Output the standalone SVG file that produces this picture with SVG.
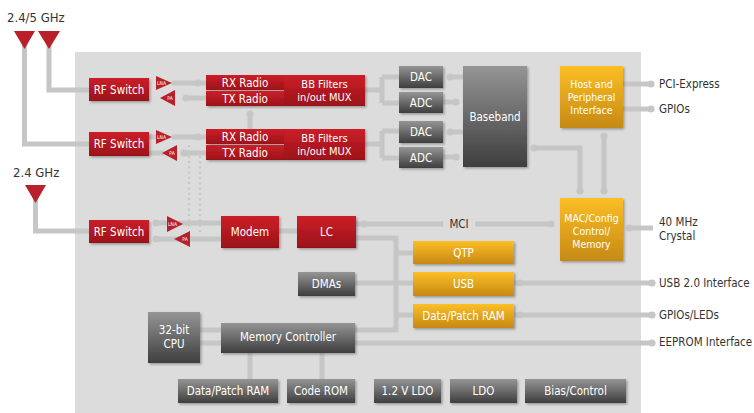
<svg xmlns="http://www.w3.org/2000/svg" width="754" height="413" viewBox="0 0 754 413">
<style>
.ln{stroke:#c6c6c6;stroke-width:5;fill:none}
.dt{stroke:#c6c6c6;stroke-width:2.2;fill:none;stroke-dasharray:2 3.3}
.dot{fill:#c6c6c6}
.red{fill:url(#gRed);filter:url(#sh)}
.gry{fill:url(#gGry);filter:url(#sh)}
.yel{fill:url(#gYel);filter:url(#sh)}
.ant{fill:#b8202a}
.t{font-family:"DejaVu Sans Condensed","DejaVu Sans",sans-serif;font-stretch:condensed;font-size:11.5px;fill:#fff;text-anchor:middle;dominant-baseline:central}
.s{font-size:10.5px}
.m{font-size:11px}
.lbl{font-family:"DejaVu Sans Condensed","DejaVu Sans",sans-serif;font-stretch:condensed;font-size:11.5px;fill:#333;dominant-baseline:central}
.big{font-size:13px}
.tiny{font-family:"DejaVu Sans Condensed","DejaVu Sans",sans-serif;font-size:5px;fill:#fff;text-anchor:middle;dominant-baseline:central}
</style>
<defs>
<linearGradient id="gRed" x1="0" y1="0" x2="0" y2="1"><stop offset="0" stop-color="#cc2029"/><stop offset="1" stop-color="#9a1119"/></linearGradient>
<linearGradient id="gGry" x1="0" y1="0" x2="0" y2="1"><stop offset="0" stop-color="#959595"/><stop offset="1" stop-color="#3e3e3e"/></linearGradient>
<linearGradient id="gYel" x1="0" y1="0" x2="0" y2="1"><stop offset="0" stop-color="#fcbf26"/><stop offset="1" stop-color="#c68913"/></linearGradient>
<filter id="sh" x="-10%" y="-10%" width="130%" height="140%"><feDropShadow dx="1.5" dy="1.5" stdDeviation="1.2" flood-color="#000" flood-opacity="0.3"/></filter>
</defs>
<rect x="0" y="0" width="754" height="413" fill="#fff"/>
<rect x="75" y="52" width="566" height="361" fill="#dcdcdc"/>

<g id="connectors">
<path class="ln" d="M24.5 45V144H89"/>
<path class="ln" d="M49 45V90H89"/>
<path class="ln" d="M35.5 199V231H89"/>
<path class="ln" d="M172 83H206"/><circle class="dot" cx="198" cy="83" r="3.6"/>
<path class="ln" d="M186 98H206"/><circle class="dot" cx="186" cy="98" r="3.6"/>
<path class="ln" d="M149 137H158M172 137H206"/><circle class="dot" cx="198" cy="137" r="3.6"/>
<path class="ln" d="M149 153H164M184 153H206"/><circle class="dot" cx="184" cy="153" r="3.6"/>
<path class="dt" d="M189 145V229"/>
<path class="dt" d="M200 156V234"/>
<path class="ln" d="M156 223H221"/><circle class="dot" cx="156" cy="223" r="3.6"/>
<path class="ln" d="M156 239H221"/><circle class="dot" cx="156" cy="239" r="3.6"/>
<path class="ln" d="M250 114V129"/><circle class="dot" cx="250" cy="114" r="3.6"/>
<path class="ln" d="M365 90H382M382 77V103M382 77H399M382 103H399"/>
<path class="ln" d="M365 144H382M382 131V158M382 131H399M382 158H399"/>
<path class="ln" d="M450 77H463"/><circle class="dot" cx="450" cy="77" r="3.6"/>
<path class="ln" d="M443 102H456"/><circle class="dot" cx="456" cy="102" r="3.6"/>
<path class="ln" d="M450 132H463"/><circle class="dot" cx="450" cy="132" r="3.6"/>
<path class="ln" d="M443 157H456"/><circle class="dot" cx="456" cy="157" r="3.6"/>
<path class="ln" d="M534 148H580V191"/><circle class="dot" cx="534" cy="148" r="3.6"/><circle class="dot" cx="580" cy="191" r="3.6"/>
<path class="ln" d="M604 136V191"/><circle class="dot" cx="604" cy="136" r="3.6"/><circle class="dot" cx="604" cy="191" r="3.6"/>
<path class="ln" d="M623 84H651M623 109H651"/><circle class="dot" cx="651" cy="84" r="3.6"/><circle class="dot" cx="651" cy="109" r="3.6"/>
<path class="ln" d="M629 228H653"/><circle class="dot" cx="629" cy="228" r="3.6"/>
<path class="ln" d="M279 231H297"/>
<path class="ln" d="M356 224H443M475 224H551"/><circle class="dot" cx="364" cy="224" r="3.6"/><circle class="dot" cx="551" cy="224" r="3.6"/>
<path class="ln" d="M356 238H396V330H355"/>
<path class="ln" d="M396 253H413M355 283H413M396 315H413"/>
<path class="ln" d="M514 283H652"/><circle class="dot" cx="520" cy="283" r="3.6"/><circle class="dot" cx="652" cy="283" r="3.6"/>
<path class="ln" d="M514 315H652"/><circle class="dot" cx="520" cy="315" r="3.6"/><circle class="dot" cx="652" cy="315" r="3.6"/>
<path class="ln" d="M355 343H652"/><circle class="dot" cx="652" cy="343" r="3.6"/>
<path class="ln" d="M200 330H221M200 343H221"/>
<path class="ln" d="M250 353V379M322 353V379"/>
<text class="lbl" x="459" y="224" text-anchor="middle" font-size="12.5">MCI</text>
</g>

<g id="ant1"><polygon class="ant" points="14,31 35,31 24.5,49"/></g>
<g id="ant2"><polygon class="ant" points="38,31 60,31 49,49"/></g>
<g id="ant3"><polygon class="ant" points="25,185 46,185 35.5,203"/></g>
<text class="lbl big" x="7" y="17">2.4/5 GHz</text>
<text class="lbl big" x="13" y="172">2.4 GHz</text>

<g id="rfsw1"><rect class="red" x="89" y="78" width="60" height="23"/><text class="t" x="119" y="90">RF Switch</text></g>
<g id="rfsw2"><rect class="red" x="89" y="132" width="60" height="24"/><text class="t" x="119" y="144">RF Switch</text></g>
<g id="rfsw3"><rect class="red" x="89" y="220" width="60" height="23"/><text class="t" x="119" y="232">RF Switch</text></g>

<g id="lna1"><polygon class="ant" points="156,76 172,83 156,90"/><text class="tiny" x="161.5" y="83">LNA</text></g>
<g id="pa1"><polygon class="ant" points="175,90 175,106 160,98"/><text class="tiny" x="170" y="98">PA</text></g>
<g id="lna2"><polygon class="ant" points="156,130 172,137 156,144"/><text class="tiny" x="161.5" y="137">LNA</text></g>
<g id="pa2"><polygon class="ant" points="177,145 177,161 162,153"/><text class="tiny" x="172" y="153">PA</text></g>
<g id="lna3"><polygon class="ant" points="167,216 183,224 167,232"/><text class="tiny" x="172.5" y="224">LNA</text></g>
<g id="pa3"><polygon class="ant" points="190,231 190,247 174,239"/><text class="tiny" x="185" y="239">PA</text></g>

<g id="rx1"><rect class="red" x="206" y="75" width="78" height="15"/><text class="t" x="245" y="82.5">RX Radio</text></g>
<g id="tx1"><rect class="red" x="206" y="91" width="78" height="15"/><text class="t" x="245" y="98.5">TX Radio</text></g>
<g id="bb1"><rect class="red" x="284" y="75" width="81" height="31"/><text class="t m" x="324.5" y="84.5">BB Filters</text><text class="t m" x="324.5" y="97">in/out MUX</text></g>
<g id="rx2"><rect class="red" x="206" y="129" width="78" height="15"/><text class="t" x="245" y="136.5">RX Radio</text></g>
<g id="tx2"><rect class="red" x="206" y="145" width="78" height="15"/><text class="t" x="245" y="152.5">TX Radio</text></g>
<g id="bb2"><rect class="red" x="284" y="129" width="81" height="31"/><text class="t m" x="324.5" y="138.5">BB Filters</text><text class="t m" x="324.5" y="151">in/out MUX</text></g>

<g id="dac1"><rect class="gry" x="399" y="66" width="44" height="22"/><text class="t" x="421" y="77">DAC</text></g>
<g id="adc1"><rect class="gry" x="399" y="92" width="44" height="21"/><text class="t" x="421" y="102.5">ADC</text></g>
<g id="dac2"><rect class="gry" x="399" y="121" width="44" height="22"/><text class="t" x="421" y="132">DAC</text></g>
<g id="adc2"><rect class="gry" x="399" y="147" width="44" height="21"/><text class="t" x="421" y="157.5">ADC</text></g>
<g id="baseband"><rect class="gry" x="463" y="66" width="64" height="101"/><text class="t" x="495" y="117">Baseband</text></g>

<g id="host"><rect class="yel" x="560" y="66" width="63" height="62"/><text class="t s" x="591.5" y="84">Host and</text><text class="t s" x="591.5" y="97">Peripheral</text><text class="t s" x="591.5" y="110">Interface</text></g>
<g id="mac"><rect class="yel" x="560" y="198" width="63" height="63"/><text class="t s" x="591.5" y="218">MAC/Config</text><text class="t s" x="591.5" y="231">Control/</text><text class="t s" x="591.5" y="244">Memory</text></g>

<g id="modem"><rect class="red" x="221" y="216" width="58" height="32"/><text class="t" x="250" y="232">Modem</text></g>
<g id="lc"><rect class="red" x="297" y="216" width="59" height="32"/><text class="t" x="326.5" y="232">LC</text></g>

<g id="qtp"><rect class="yel" x="413" y="241" width="101" height="23"/><text class="t" x="463.5" y="252.5">QTP</text></g>
<g id="usb"><rect class="yel" x="413" y="272" width="101" height="24"/><text class="t" x="463.5" y="284">USB</text></g>
<g id="dpram1"><rect class="yel" x="413" y="304" width="101" height="24"/><text class="t" x="463.5" y="316">Data/Patch RAM</text></g>
<g id="dmas"><rect class="gry" x="298" y="272" width="57" height="24"/><text class="t" x="326.5" y="284">DMAs</text></g>
<g id="cpu"><rect class="gry" x="148" y="312" width="52" height="51"/><text class="t" x="174" y="330">32-bit</text><text class="t" x="174" y="344">CPU</text></g>
<g id="memctrl"><rect class="gry" x="221" y="323" width="134" height="30"/><text class="t" x="288" y="337">Memory Controller</text></g>
<g id="dpram2"><rect class="gry" x="178" y="379" width="100" height="24"/><text class="t" x="228" y="391">Data/Patch RAM</text></g>
<g id="rom"><rect class="gry" x="287" y="379" width="68" height="24"/><text class="t" x="321" y="391">Code ROM</text></g>
<g id="ldo12"><rect class="gry" x="374" y="379" width="67" height="24"/><text class="t" x="407.5" y="391">1.2 V LDO</text></g>
<g id="ldo"><rect class="gry" x="450" y="379" width="67" height="24"/><text class="t" x="483.5" y="391">LDO</text></g>
<g id="bias"><rect class="gry" x="525" y="379" width="101" height="24"/><text class="t" x="575.5" y="391">Bias/Control</text></g>

<g id="labels">
<text class="lbl" x="659" y="84">PCI-Express</text>
<text class="lbl" x="659" y="109">GPIOs</text>
<text class="lbl" x="659" y="222">40 MHz</text>
<text class="lbl" x="659" y="236">Crystal</text>
<text class="lbl" x="659" y="283">USB 2.0 Interface</text>
<text class="lbl" x="659" y="315">GPIOs/LEDs</text>
<text class="lbl" x="659" y="342">EEPROM Interface</text>
</g>
</svg>
